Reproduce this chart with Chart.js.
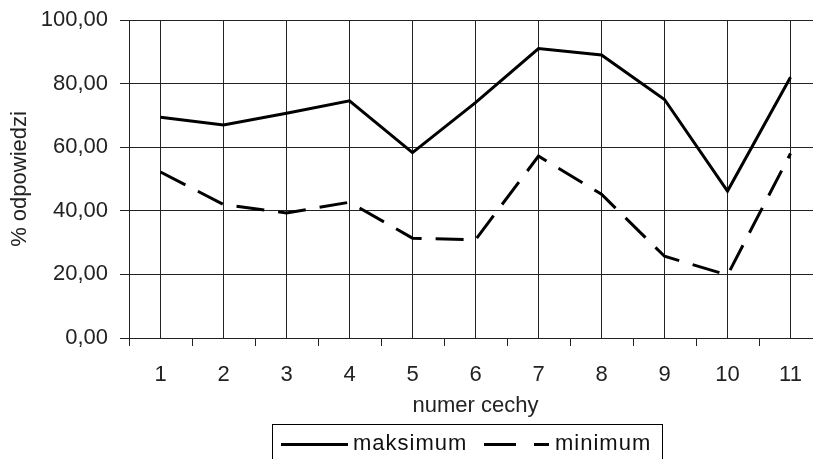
<!DOCTYPE html>
<html>
<head>
<meta charset="utf-8">
<script src="https://cdn.jsdelivr.net/npm/chart.js@4"></script>
<style>
  body { margin: 0; background: #fff; overflow: hidden; width: 813px; height: 459px; position: relative; }
  #wrap { position: absolute; left: 0; top: 0; width: 830px; height: 459px; }
  #legend { position: absolute; left: 272px; top: 424px; width: 391px; height: 50px; box-sizing: border-box;
            border: 1px solid #000; font-family: "Liberation Sans", Arial, sans-serif; font-size: 22px; color: #111; letter-spacing: 1px; }
  #legend span { position: absolute; top: 5px; }
  .solid { position: absolute; left: 8px; top: 18px; width: 67px; height: 3px; background: #000; }
  .dash1 { position: absolute; left: 211px; top: 18px; width: 32px; height: 3px; background: #000; }
  .dash2 { position: absolute; left: 261px; top: 18px; width: 15px; height: 3px; background: #000; }
</style>
</head>
<body>
<div id="wrap"><canvas id="lineChart" width="830" height="459"></canvas></div>
<div id="legend">
  <div class="solid"></div><span style="left:80px">maksimum</span>
  <div class="dash1"></div><div class="dash2"></div><span style="left:282px">minimum</span>
</div>
<script>
var categories = ['1', '2', '3', '4', '5', '6', '7', '8', '9', '10', '11'];
var maksimum = [69.4, 67, 70.7, 74.6, 58.3, 74, 91, 89, 75, 46.2, 82];
var minimum = [52.2, 42, 39.3, 42.7, 31.4, 30.9, 57.2, 45.2, 25.7, 19.8, 58];

var font = { family: '"Liberation Sans", Arial, sans-serif', size: 22 };

// tick marks between categories on the x axis
var betweenTicks = {
    id: 'betweenTicks',
    afterDraw: function(chart) {
        var x = chart.scales.x;
        var ctx = chart.ctx;
        ctx.save();
        ctx.strokeStyle = '#222';
        ctx.lineWidth = 1;
        for (var i = 0; i <= categories.length; i++) {
            var px = Math.round(x.getPixelForValue(i - 0.5)) + 0.5;
            ctx.beginPath();
            ctx.moveTo(px, chart.chartArea.bottom);
            ctx.lineTo(px, chart.chartArea.bottom + 8);
            ctx.stroke();
        }
        ctx.restore();
    }
};

var ctx = document.getElementById('lineChart');
new Chart(ctx, {
    type: 'line',
    data: {
        labels: categories,
        datasets: [{
            label: 'maksimum',
            data: maksimum,
            borderColor: '#000',
            borderWidth: 3,
            pointRadius: 0,
            tension: 0
        }, {
            label: 'minimum',
            data: minimum,
            borderColor: '#000',
            borderWidth: 3,
            borderDash: [28, 14],
            pointRadius: 0,
            tension: 0
        }]
    },
    options: {
        responsive: false,
        animation: false,
        layout: { padding: { top: 20, right: 8, bottom: 40, left: 0 } },
        plugins: { legend: { display: false }, tooltip: { enabled: false } },
        scales: {
            x: {
                offset: true,
                afterFit: function(s) { s.height = 81; s.paddingLeft = 0; s.paddingRight = 0; },
                grid: { offset: false, color: '#222', drawTicks: false },
                border: { color: '#222' },
                ticks: { color: '#222', font: font, padding: 24, maxRotation: 0 },
                title: { display: true, text: 'numer cechy', color: '#222', font: font, padding: 0 }
            },
            y: {
                min: 0,
                max: 100,
                afterFit: function(s) { s.width = 129; s.paddingTop = 0; s.paddingBottom = 0; },
                grid: { color: '#222', tickLength: 9 },
                border: { color: '#222' },
                ticks: {
                    stepSize: 20,
                    color: '#222',
                    font: font,
                    padding: 12,
                    callback: function(v) { return v.toFixed(2).replace('.', ','); }
                },
                title: { display: true, text: '% odpowiedzi', color: '#222', font: font, padding: 7 }
            }
        }
    },
    plugins: [betweenTicks]
});
</script>
</body>
</html>
